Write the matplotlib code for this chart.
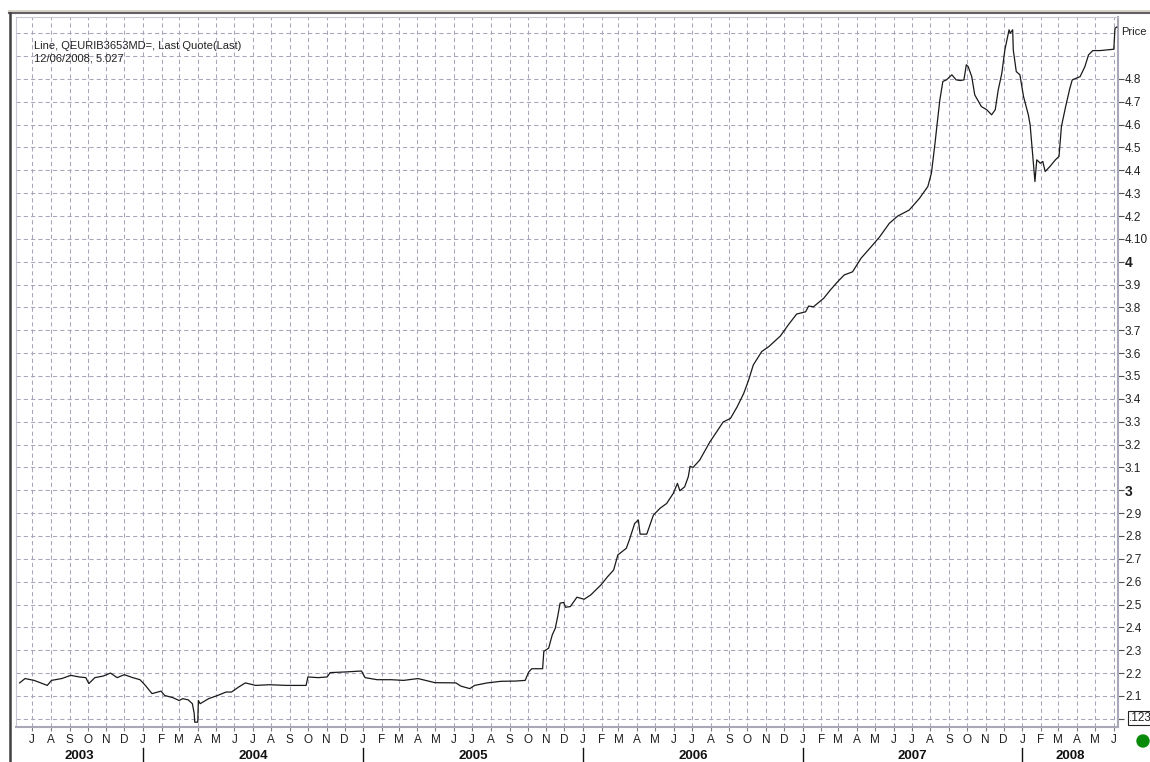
import matplotlib
matplotlib.use("Agg")
import matplotlib.pyplot as plt
import matplotlib.dates as mdates
import matplotlib.lines as lines
import matplotlib.patches as patches
import matplotlib.transforms as transforms
import numpy as np
import pandas as pd

plt.rcParams['font.family'] = ['Liberation Sans', 'DejaVu Sans']

W, H = 1150, 762

# data (date, last quote)
dates = [
    "2003-06-10", "2003-06-19", "2003-07-04", "2003-07-26", "2003-08-02", "2003-08-19",
    "2003-09-03", "2003-09-17", "2003-09-28", "2003-10-03", "2003-10-13", "2003-10-27",
    "2003-11-08", "2003-11-19", "2003-12-01", "2003-12-15", "2003-12-27", "2004-01-05",
    "2004-01-16", "2004-01-31", "2004-02-06", "2004-02-20", "2004-03-01", "2004-03-07",
    "2004-03-16", "2004-03-23", "2004-03-26", "2004-03-27", "2004-04-01", "2004-04-02",
    "2004-04-05", "2004-04-19", "2004-05-04", "2004-05-18", "2004-05-27", "2004-06-08",
    "2004-06-19", "2004-07-06", "2004-07-29", "2004-08-27", "2004-09-28", "2004-10-01",
    "2004-10-18", "2004-11-02", "2004-11-07", "2004-12-03", "2004-12-29", "2005-01-04",
    "2005-01-24", "2005-02-16", "2005-03-09", "2005-04-02", "2005-04-30", "2005-06-04",
    "2005-06-12", "2005-06-27", "2005-07-05", "2005-07-26", "2005-08-18", "2005-09-11",
    "2005-09-27", "2005-10-03", "2005-10-08", "2005-10-26", "2005-10-28", "2005-11-05",
    "2005-11-11", "2005-11-16", "2005-11-20", "2005-11-24", "2005-11-30", "2005-12-03",
    "2005-12-11", "2005-12-22", "2006-01-03", "2006-01-14", "2006-01-31", "2006-02-11",
    "2006-02-21", "2006-02-28", "2006-03-14", "2006-03-19", "2006-03-28", "2006-04-03",
    "2006-04-06", "2006-04-17", "2006-04-28", "2006-05-09", "2006-05-20", "2006-05-31",
    "2006-06-07", "2006-06-11", "2006-06-19", "2006-06-25", "2006-06-28", "2006-07-03",
    "2006-07-14", "2006-07-31", "2006-08-11", "2006-08-22", "2006-09-03", "2006-09-14",
    "2006-09-25", "2006-10-03", "2006-10-11", "2006-10-25", "2006-11-06", "2006-11-25",
    "2006-12-08", "2006-12-22", "2007-01-06", "2007-01-11", "2007-01-19", "2007-02-05",
    "2007-02-16", "2007-02-28", "2007-03-11", "2007-03-25", "2007-04-08", "2007-04-25",
    "2007-05-09", "2007-05-25", "2007-06-08", "2007-06-27", "2007-07-14", "2007-07-28",
    "2007-08-03", "2007-08-09", "2007-08-12", "2007-08-17", "2007-08-22", "2007-08-28",
    "2007-09-06", "2007-09-13", "2007-09-20", "2007-09-26", "2007-09-30", "2007-10-03",
    "2007-10-09", "2007-10-14", "2007-10-25", "2007-11-03", "2007-11-11", "2007-11-17",
    "2007-11-22", "2007-11-28", "2007-12-03", "2007-12-10", "2007-12-12", "2007-12-16",
    "2007-12-17", "2007-12-22", "2007-12-28", "2008-01-03", "2008-01-11", "2008-01-14",
    "2008-01-18", "2008-01-22", "2008-01-25", "2008-01-31", "2008-02-04", "2008-02-08",
    "2008-02-16", "2008-02-25", "2008-03-02", "2008-03-06", "2008-03-13", "2008-03-20",
    "2008-03-24", "2008-04-06", "2008-04-14", "2008-04-20", "2008-04-27", "2008-05-09",
    "2008-06-01", "2008-06-03", "2008-06-06",
]
prices = [
    2.157, 2.176, 2.168, 2.146, 2.168, 2.176,
    2.190, 2.183, 2.180, 2.154, 2.180, 2.187,
    2.200, 2.180, 2.193, 2.180, 2.171, 2.146,
    2.110, 2.121, 2.102, 2.092, 2.080, 2.088,
    2.083, 2.066, 2.025, 1.985, 1.985, 2.080,
    2.066, 2.088, 2.102, 2.117, 2.117, 2.139,
    2.157, 2.146, 2.149, 2.146, 2.146, 2.183,
    2.180, 2.183, 2.202, 2.205, 2.209, 2.180,
    2.171, 2.171, 2.168, 2.176, 2.158, 2.157,
    2.143, 2.132, 2.146, 2.157, 2.164, 2.165,
    2.168, 2.205, 2.219, 2.219, 2.295, 2.309,
    2.367, 2.396, 2.447, 2.506, 2.509, 2.488,
    2.491, 2.532, 2.523, 2.542, 2.586, 2.622,
    2.651, 2.717, 2.746, 2.782, 2.855, 2.870,
    2.808, 2.808, 2.891, 2.921, 2.942, 2.986,
    3.030, 2.998, 3.015, 3.059, 3.105, 3.100,
    3.132, 3.212, 3.255, 3.299, 3.314, 3.364,
    3.423, 3.480, 3.548, 3.607, 3.629, 3.675,
    3.723, 3.771, 3.781, 3.806, 3.803, 3.840,
    3.876, 3.912, 3.942, 3.956, 4.015, 4.066,
    4.109, 4.168, 4.200, 4.226, 4.277, 4.329,
    4.388, 4.519, 4.592, 4.708, 4.789, 4.796,
    4.818, 4.796, 4.793, 4.796, 4.862, 4.854,
    4.810, 4.730, 4.679, 4.665, 4.643, 4.665,
    4.752, 4.825, 4.927, 5.015, 5.000, 5.015,
    4.927, 4.832, 4.818, 4.723, 4.643, 4.599,
    4.475, 4.351, 4.446, 4.431, 4.439, 4.395,
    4.417, 4.446, 4.461, 4.592, 4.679, 4.759,
    4.796, 4.810, 4.854, 4.905, 4.924, 4.924,
    4.930, 5.022, 5.027,
]

ytick_vals = [round(2.0 + 0.1 * i, 1) for i in range(29)]   # 2.0 .. 4.8
ytick_text = {4.1: "4.10", 4.0: "4", 3.0: "3", 2.0: ""}
years = [2003, 2004, 2005, 2006, 2007, 2008]
legend_lines = ["Line, QEURIB3653MD=, Last Quote(Last)", "12/06/2008, 5.027"]

x = pd.to_datetime(dates)
xmin, xmax = pd.Timestamp("2003-06-04"), pd.Timestamp("2008-06-08")
ymin, ymax = 1.964, 5.071


def fx(px):
    return px / W


def fy(py):
    return 1 - py / H


fig = plt.figure(figsize=(W / 100, H / 100), dpi=100)
fig.patch.set_facecolor("white")
ax = fig.add_axes([fx(16), fy(727), fx(1118) - fx(16), fy(17) - fy(727)])
ax.set_xlim(xmin, xmax)
ax.set_ylim(ymin, ymax)

gridcol = "#a6a6ba"
months = pd.date_range("2003-07-01", "2008-06-01", freq="MS")
for m in months:
    ax.axvline(m, color=gridcol, lw=0.75, ls=(0, (4, 3)), zorder=1)
for v in np.arange(20, 51) / 10:
    ax.axhline(v, color=gridcol, lw=0.75, ls=(0, (4, 3)), zorder=1)

ax.plot(x, prices, color="#1a1a1a", lw=0.9, zorder=3)

# spines
for s in ["left", "top"]:
    ax.spines[s].set_color("#c8c8d4")
    ax.spines[s].set_linewidth(0.8)
for s in ["right", "bottom"]:
    ax.spines[s].set_color("#a8a8b8")
    ax.spines[s].set_linewidth(1.5)

# x axis: month initials
ax.set_xticks(months)
ax.set_xticklabels([m.strftime("%b")[0] for m in months])
ax.tick_params(axis="x", direction="out", length=3, width=0.8, color="#808080",
               labelsize=8.5, pad=2, labelcolor="#202020")

# right price axis
ax.yaxis.tick_right()
ax.set_yticks(ytick_vals)
ax.set_yticklabels([ytick_text.get(v, f"{v:.1f}") for v in ytick_vals])
ax.tick_params(axis="y", direction="out", length=4, width=0.8, color="#505050",
               labelsize=8.5, pad=1, labelcolor="#202020")
for lab in ax.get_yticklabels():
    if lab.get_text() in ("3", "4"):
        lab.set_fontweight("bold")
        lab.set_fontsize(10)

# year labels and separators
tyear = transforms.blended_transform_factory(ax.transData, fig.transFigure)
for yr in years:
    a = max(pd.Timestamp(f"{yr}-01-01"), xmin)
    b = min(pd.Timestamp(f"{yr + 1}-01-01"), xmax)
    mid = a + (b - a) / 2
    ax.text(mid, fy(756), str(yr), transform=tyear, ha="center", va="center",
            fontsize=9.5, fontweight="bold", color="#111111")
    if yr > 2003:
        jan = mdates.date2num(pd.Timestamp(f"{yr}-01-01"))
        fig.add_artist(lines.Line2D([jan, jan], [fy(748), fy(762)], transform=tyear,
                                    color="#111111", lw=1))

# legend text
for i, s in enumerate(legend_lines):
    fig.text(fx(34), fy(46 + 12.5 * i), s, fontsize=8, color="#222222", va="center", ha="left")

fig.text(fx(1121), fy(32), "Price", fontsize=8, color="#222222", va="center", ha="left")

# boxed marker at the bottom of the price scale
fig.text(fx(1129), fy(718), ".123", fontsize=8.5, color="#222222", va="center", ha="left",
         bbox=dict(boxstyle="square,pad=0.1", fc="white", ec="#222222", lw=0.8))

# green status dot
fig.add_artist(patches.Ellipse((fx(1143), fy(741)), 12 / W, 12 / H, transform=fig.transFigure,
                               color="#0a8a0a", zorder=5))

# window frame
tf = fig.transFigure
fig.add_artist(lines.Line2D([fx(9), 1], [fy(10.5), fy(10.5)], transform=tf, color="#d8d4cc", lw=1.5))
fig.add_artist(lines.Line2D([fx(9), 1], [fy(12.5), fy(12.5)], transform=tf, color="#606060", lw=1.5))
fig.add_artist(lines.Line2D([fx(9.5), fx(9.5)], [fy(12.5), 0], transform=tf, color="#404040", lw=1.8))

fig.savefig("out.png", dpi=100)
